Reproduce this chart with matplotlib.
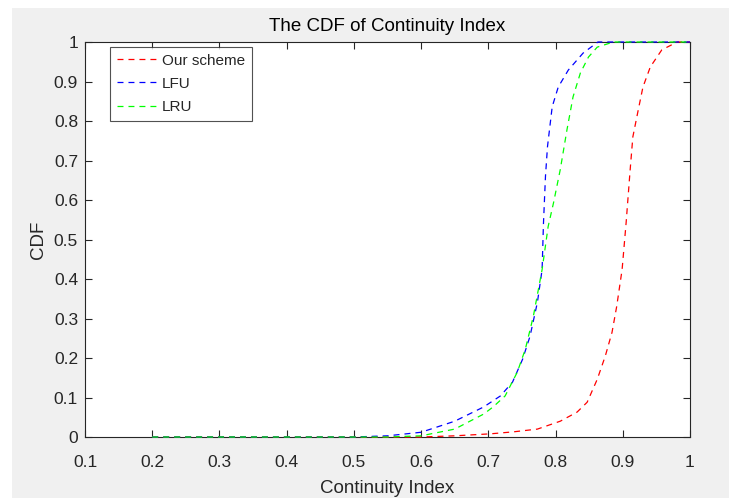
import matplotlib
matplotlib.use('Agg')
import matplotlib.pyplot as plt
from matplotlib.patches import Rectangle

# -- DATA --
ours_x = [0.2, 0.6, 0.65, 0.703, 0.737, 0.773, 0.807, 0.832, 0.847, 0.862, 0.874,
          0.884, 0.891, 0.899, 0.905, 0.911, 0.915, 0.923, 0.930, 0.941, 0.958,
          0.981, 1.0]
ours_y = [0.0, 0.0, 0.003, 0.008, 0.013, 0.020, 0.040, 0.063, 0.088, 0.146, 0.205,
          0.265, 0.331, 0.424, 0.543, 0.677, 0.760, 0.828, 0.886, 0.937, 0.980,
          1.0, 1.0]

lfu_x = [0.2, 0.5, 0.55, 0.6, 0.65, 0.693, 0.718, 0.736, 0.751, 0.762, 0.773,
         0.780, 0.782, 0.785, 0.788, 0.795, 0.804, 0.819, 0.841, 0.863, 1.0]
lfu_y = [0.0, 0.0, 0.003, 0.012, 0.040, 0.076, 0.104, 0.139, 0.197, 0.255, 0.341,
         0.424, 0.540, 0.660, 0.735, 0.836, 0.886, 0.929, 0.972, 1.0, 1.0]

lru_x = [0.2, 0.55, 0.6, 0.65, 0.693, 0.707, 0.725, 0.743, 0.755, 0.767, 0.780,
         0.789, 0.797, 0.807, 0.817, 0.826, 0.837, 0.849, 0.862, 0.886, 1.0]
lru_y = [0.0, 0.0, 0.003, 0.020, 0.058, 0.076, 0.104, 0.164, 0.222, 0.306, 0.424,
         0.533, 0.593, 0.677, 0.778, 0.861, 0.922, 0.962, 0.987, 1.0, 1.0]

x_ticks = [0.1, 0.2, 0.3, 0.4, 0.5, 0.6, 0.7, 0.8, 0.9, 1.0]
x_tick_labels = ['0.1', '0.2', '0.3', '0.4', '0.5', '0.6', '0.7', '0.8', '0.9', '1']
y_ticks = [0.0, 0.1, 0.2, 0.3, 0.4, 0.5, 0.6, 0.7, 0.8, 0.9, 1.0]
y_tick_labels = ['0', '0.1', '0.2', '0.3', '0.4', '0.5', '0.6', '0.7', '0.8', '0.9', '1']

plt.rcParams['font.family'] = ['Liberation Sans', 'DejaVu Sans']
plt.rcParams['lines.scale_dashes'] = False

# -- FIGURE --
fig = plt.figure(figsize=(7.29, 4.98), dpi=100, facecolor='white')
# matlab-style grey panel (small white strip on the left and top)
fig.patches.append(Rectangle((12 / 729, 0), 1 - 12 / 729, 1 - 8 / 498,
                             transform=fig.transFigure, facecolor='#f0f0f0',
                             edgecolor='none', zorder=-10))

ax = fig.add_axes([85 / 729, (498 - 437) / 498, (690 - 85) / 729, (437 - 42) / 498])
ax.set_facecolor('white')

# lines drawn over the box so the y=1 segments stay visible
dash = (4.3, 3.6)
ax.plot(ours_x, ours_y, color='#ff0000', lw=0.9, dashes=dash, label='Our scheme',
        zorder=3, clip_on=False)
ax.plot(lfu_x, lfu_y, color='#0000ff', lw=0.9, dashes=dash, label='LFU',
        zorder=3, clip_on=False)
ax.plot(lru_x, lru_y, color='#00ff00', lw=0.9, dashes=dash, label='LRU',
        zorder=3, clip_on=False)

ax.set_xlim(0.1, 1.0)
ax.set_ylim(0, 1.0)
ax.set_xticks(x_ticks)
ax.set_xticklabels(x_tick_labels)
ax.set_yticks(y_ticks)
ax.set_yticklabels(y_tick_labels)

ax.tick_params(direction='in', top=True, right=True, length=5, width=0.8,
               color='#262626', labelcolor='#262626', labelsize=12.5)
ax.tick_params(axis='x', pad=13)
ax.tick_params(axis='y', pad=5)
for s in ax.spines.values():
    s.set_color('#262626')
    s.set_linewidth(0.8)

ax.set_title('The CDF of Continuity Index', fontsize=13.5, color='black', pad=8)
ax.set_xlabel('Continuity Index', fontsize=13.5, color='#262626', labelpad=7)
ax.set_ylabel('CDF', fontsize=13.5, color='#262626', labelpad=5)

leg = ax.legend(loc='upper left', bbox_to_anchor=(0.041, 0.988), fontsize=11,
                frameon=True, fancybox=False, edgecolor='#262626',
                handlelength=2.6, handletextpad=0.35, borderpad=0.45,
                labelspacing=0.6, borderaxespad=0)
leg.get_frame().set_linewidth(0.8)
for t in leg.get_texts():
    t.set_color('#262626')

plt.savefig('out.png', dpi=100, facecolor=fig.get_facecolor())
plt.close(fig)
